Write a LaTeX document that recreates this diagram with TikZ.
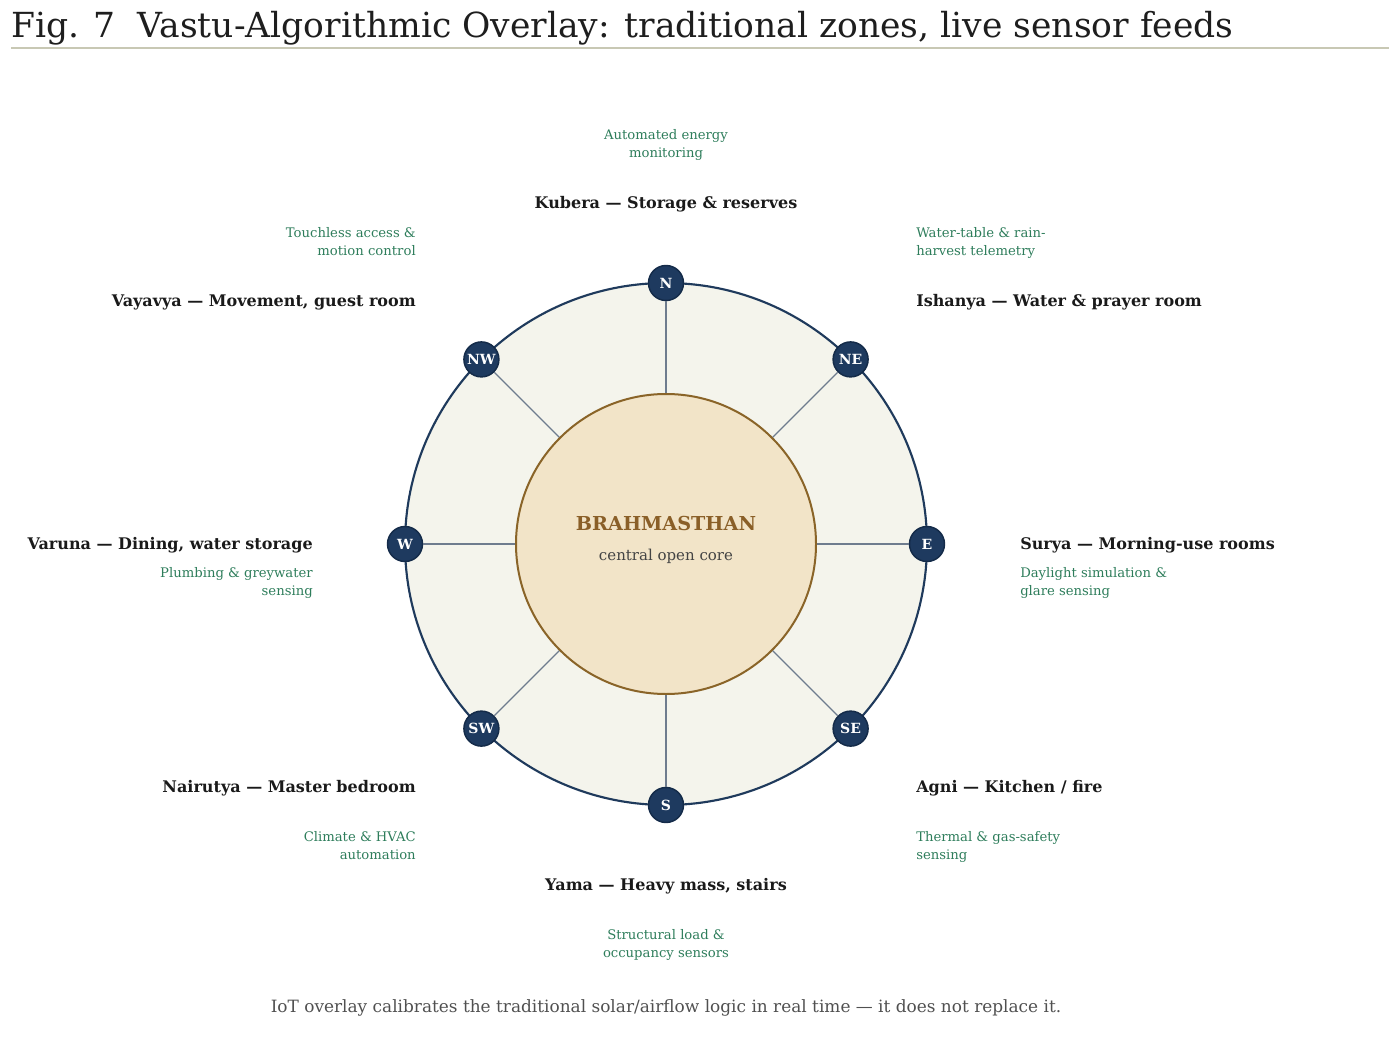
\documentclass[tikz,border=0pt]{standalone}
\usepackage{fontspec}
\setmainfont{DejaVu Serif}
\definecolor{titlec}{HTML}{1E1E1E}
\definecolor{rulec}{HTML}{C8C8B4}
\definecolor{ringc}{HTML}{1F3A5C}
\definecolor{ringfill}{HTML}{F4F4EC}
\definecolor{corefill}{HTML}{F2E4C8}
\definecolor{corec}{HTML}{8A6428}
\definecolor{brahc}{HTML}{8A5F28}
\definecolor{subc}{HTML}{444444}
\definecolor{spokec}{HTML}{6E7C8E}
\definecolor{dirfill}{HTML}{1E3A5F}
\definecolor{dirline}{HTML}{142B49}
\definecolor{greenc}{HTML}{2E7D5B}
\definecolor{labc}{HTML}{1A1A1A}
\definecolor{capc}{HTML}{505050}
\tikzset{
  dirnode/.style={circle, fill=dirfill, draw=dirline, line width=1.1pt, minimum size=26.25pt, inner sep=0pt, text=white, font=\bfseries\fontsize{10.5}{12}\selectfont},
  spoke/.style={draw=spokec, line width=0.9pt},
  zonelab/.style={inner sep=0pt, text=labc, font=\bfseries\fontsize{12}{14}\selectfont},
  feedlab/.style={inner sep=0pt, text=greenc, font=\fontsize{9.9}{13}\selectfont},
}
\begin{document}
\begin{tikzpicture}[x=0.75pt,y=-0.75pt]
\useasboundingbox (0,0) rectangle (1400,1056);
% title
\node[anchor=base west, inner sep=0pt, text=titlec, font=\fontsize{25.9}{30}\selectfont] (title) at (11,38) {Fig. 7\ \ Vastu-Algorithmic Overlay: traditional zones, live sensor feeds};
\coordinate (rl) at (11,48);
\coordinate (rr) at (1389,48);
\draw[rulec, line width=1.1pt] (rl) -- (rr);
% ring
\coordinate (c) at (666,544);
\draw[ringc, fill=ringfill, line width=1.6pt] (c) circle[radius=261];
\node[circle, draw=corec, fill=corefill, line width=1.5pt, minimum size=225pt, inner sep=0pt] (core) at (c) {};
% direction nodes
\node[dirnode] (N) at (666,283) {N};
\node[dirnode] (NE) at (850.6,359.4) {NE};
\node[dirnode] (E) at (927,544) {E};
\node[dirnode] (SE) at (850.6,728.6) {SE};
\node[dirnode] (S) at (666,805) {S};
\node[dirnode] (SW) at (481.4,728.6) {SW};
\node[dirnode] (W) at (405,544) {W};
\node[dirnode] (NW) at (481.4,359.4) {NW};
\foreach \d in {N,NE,E,SE,S,SW,W,NW}{
  \path[spoke] (\d) -- (core);
}
% core texts
\node[anchor=base, inner sep=0pt, text=brahc, font=\bfseries\fontsize{14.4}{18}\selectfont] (brah) at (666,530) {BRAHMASTHAN};
\node[anchor=base, inner sep=0pt, text=subc, font=\fontsize{11.25}{14}\selectfont] (core-sub) at (666,560) {central open core};
% N
\node[zonelab, anchor=base] (kubera) at (666,208) {Kubera — Storage \& reserves};
\node[feedlab, anchor=base, align=center] (kubera-f) at (666,157) {Automated energy\\monitoring};
% NE
\node[zonelab, anchor=base west] (ishanya) at (916,306) {Ishanya — Water \& prayer room};
\node[feedlab, anchor=base west, align=left] (ishanya-f) at (916,255) {Water-table \& rain-\\harvest telemetry};
% E
\node[zonelab, anchor=base west] (surya) at (1020,549) {Surya — Morning-use rooms};
\node[feedlab, anchor=base west, align=left] (surya-f) at (1020,595) {Daylight simulation \&\\glare sensing};
% SE
\node[zonelab, anchor=base west] (agni) at (916,792) {Agni — Kitchen / fire};
\node[feedlab, anchor=base west, align=left] (agni-f) at (916,859) {Thermal \& gas-safety\\sensing};
% S
\node[zonelab, anchor=base] (yama) at (666,890) {Yama — Heavy mass, stairs};
\node[feedlab, anchor=base, align=center] (yama-f) at (666,957) {Structural load \&\\occupancy sensors};
% SW
\node[zonelab, anchor=base east] (nairutya) at (416,792) {Nairutya — Master bedroom};
\node[feedlab, anchor=base east, align=right] (nairutya-f) at (416,859) {Climate \& HVAC\\automation};
% W
\node[zonelab, anchor=base east] (varuna) at (313,549) {Varuna — Dining, water storage};
\node[feedlab, anchor=base east, align=right] (varuna-f) at (313,595) {Plumbing \& greywater\\sensing};
% NW
\node[zonelab, anchor=base east] (vayavya) at (416,306) {Vayavya — Movement, guest room};
\node[feedlab, anchor=base east, align=right] (vayavya-f) at (416,255) {Touchless access \&\\motion control};
% caption
\node[anchor=base, inner sep=0pt, text=capc, font=\fontsize{12.7}{16}\selectfont] (caption) at (666,1012) {IoT overlay calibrates the traditional solar/airflow logic in real time — it does not replace it.};
\end{tikzpicture}
\end{document}
